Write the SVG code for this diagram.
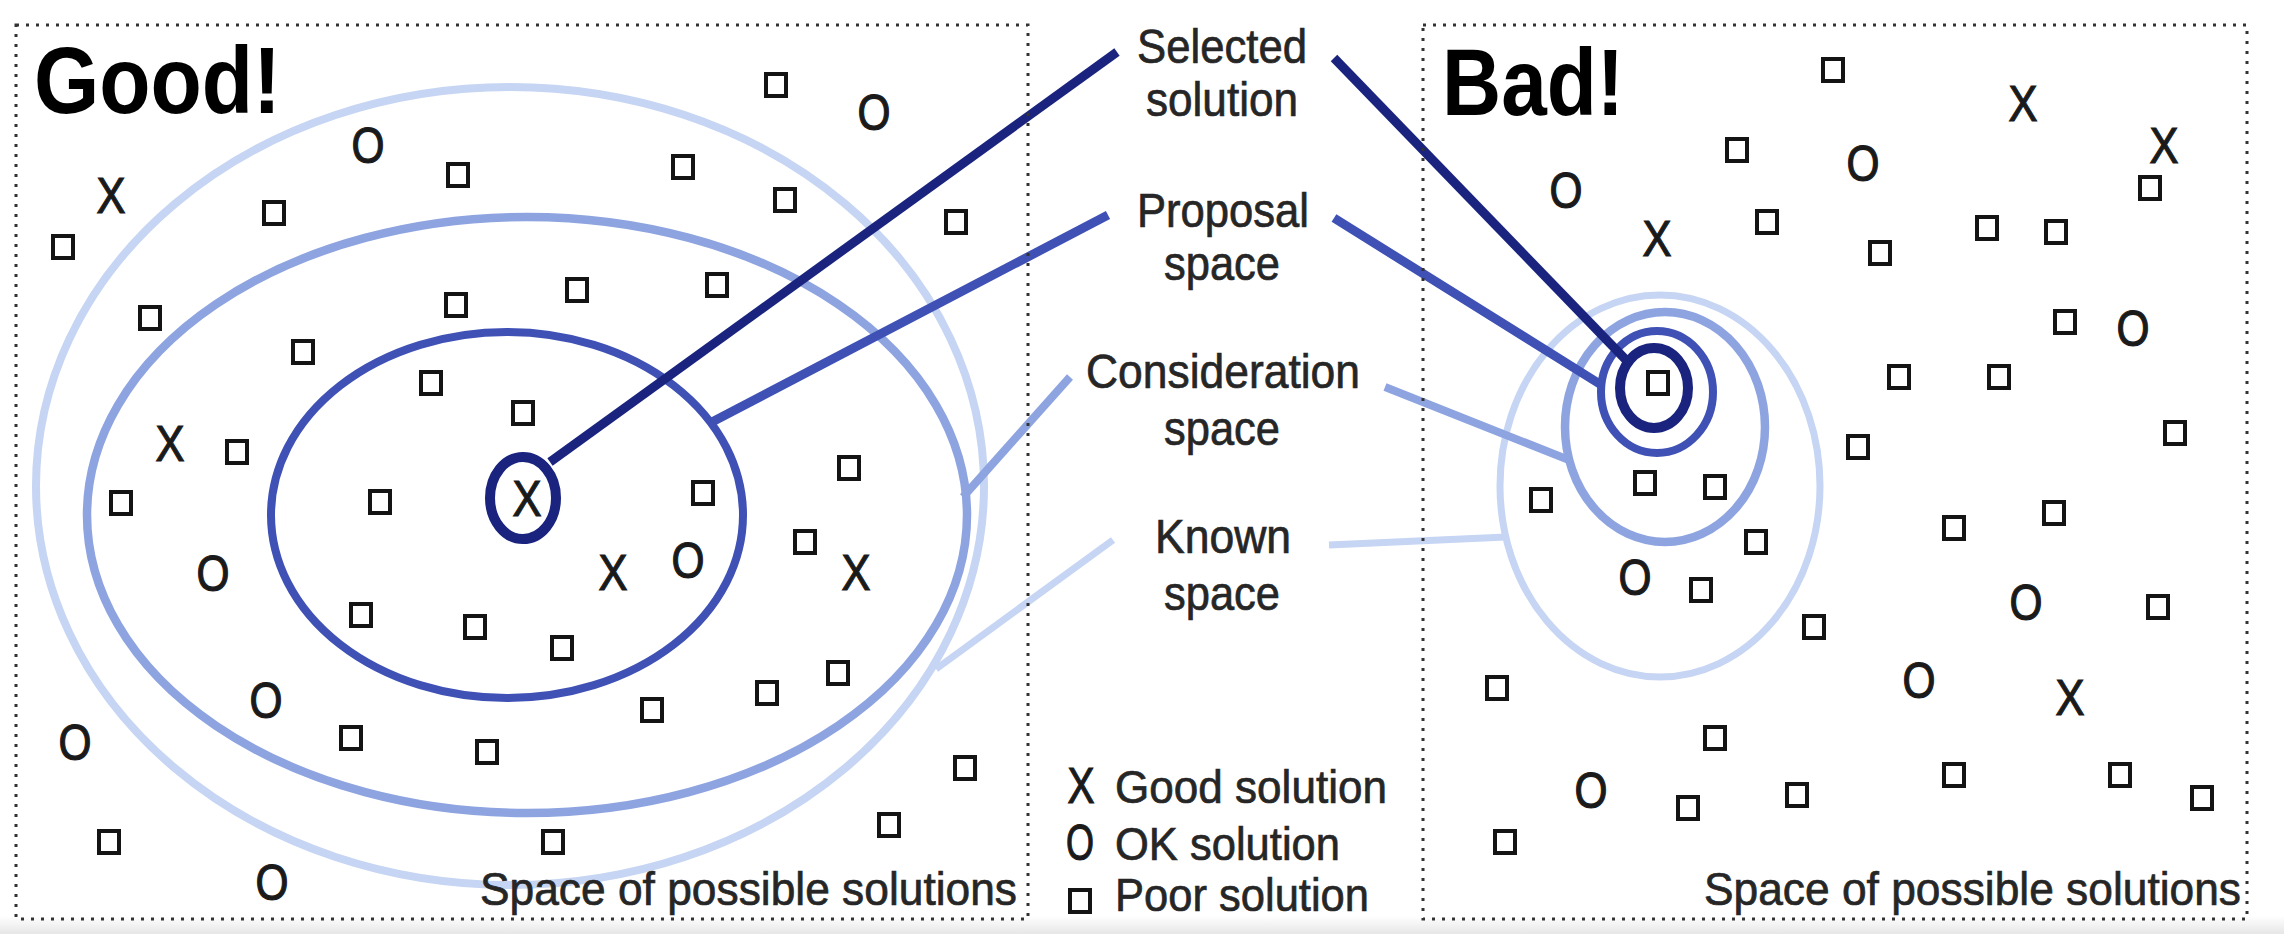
<svg xmlns="http://www.w3.org/2000/svg" width="2284" height="934" viewBox="0 0 2284 934">
<defs>
<style>
.bg{fill:#ffffff}
.frame{fill:none;stroke:#333333;stroke-width:3;stroke-dasharray:3 7}
.sq{fill:none;stroke:#141414;stroke-width:4}
.mk{font-family:"Liberation Sans",Arial,sans-serif;font-size:50px;fill:#1a1a1a;stroke:#1a1a1a;stroke-width:1.2;text-anchor:middle}
.lbl{font-family:"Liberation Sans",Arial,sans-serif;font-size:48px;fill:#262626;stroke:#262626;stroke-width:0.7;text-anchor:middle}
.leg{font-family:"Liberation Sans",Arial,sans-serif;font-size:47px;fill:#262626;stroke:#262626;stroke-width:0.7}
.title{font-family:"Liberation Sans",Arial,sans-serif;font-size:95px;font-weight:bold;fill:#000}
.ring{fill:none}
.known{stroke:#c6d5f3;stroke-width:8}
.consid{stroke:#8ea4e0;stroke-width:8.5}
.prop{stroke:#3f51b5;stroke-width:8}
.sel{stroke:#1a237e;stroke-width:10}
.ln{fill:none;stroke-linecap:butt}
</style>
<linearGradient id="shade" x1="0" y1="0" x2="0" y2="1">
<stop offset="0" stop-color="#ffffff"/>
<stop offset="1" stop-color="#e6e6e6"/>
</linearGradient>
</defs>
<rect class="bg" x="0" y="0" width="2284" height="934"/>
<rect x="0" y="916" width="2284" height="18" fill="url(#shade)"/>

<g id="panel-good">
<g id="good-spaces">
<ellipse id="good-known" class="ring known" cx="510" cy="486" rx="474" ry="399"/>
<ellipse id="good-consideration" class="ring consid" cx="527" cy="515" rx="440" ry="298"/>
<ellipse id="good-proposal" class="ring prop" cx="507" cy="515" rx="236" ry="183"/>
<ellipse id="good-selected" class="ring sel" cx="523" cy="498" rx="33" ry="41"/>
</g>
<g id="good-poor">
<rect class="sq" x="766" y="74" width="20" height="22"/>
<rect class="sq" x="448" y="164" width="20" height="22"/>
<rect class="sq" x="673" y="156" width="20" height="22"/>
<rect class="sq" x="775" y="189" width="20" height="22"/>
<rect class="sq" x="264" y="202" width="20" height="22"/>
<rect class="sq" x="53" y="236" width="20" height="22"/>
<rect class="sq" x="946" y="211" width="20" height="22"/>
<rect class="sq" x="140" y="307" width="20" height="22"/>
<rect class="sq" x="446" y="294" width="20" height="22"/>
<rect class="sq" x="567" y="279" width="20" height="22"/>
<rect class="sq" x="707" y="274" width="20" height="22"/>
<rect class="sq" x="293" y="341" width="20" height="22"/>
<rect class="sq" x="421" y="372" width="20" height="22"/>
<rect class="sq" x="513" y="402" width="20" height="22"/>
<rect class="sq" x="227" y="441" width="20" height="22"/>
<rect class="sq" x="111" y="492" width="20" height="22"/>
<rect class="sq" x="370" y="491" width="20" height="22"/>
<rect class="sq" x="693" y="482" width="20" height="22"/>
<rect class="sq" x="839" y="457" width="20" height="22"/>
<rect class="sq" x="795" y="531" width="20" height="22"/>
<rect class="sq" x="351" y="604" width="20" height="22"/>
<rect class="sq" x="465" y="616" width="20" height="22"/>
<rect class="sq" x="552" y="637" width="20" height="22"/>
<rect class="sq" x="642" y="699" width="20" height="22"/>
<rect class="sq" x="757" y="682" width="20" height="22"/>
<rect class="sq" x="828" y="662" width="20" height="22"/>
<rect class="sq" x="341" y="727" width="20" height="22"/>
<rect class="sq" x="477" y="741" width="20" height="22"/>
<rect class="sq" x="955" y="757" width="20" height="22"/>
<rect class="sq" x="879" y="814" width="20" height="22"/>
<rect class="sq" x="99" y="831" width="20" height="22"/>
<rect class="sq" x="543" y="831" width="20" height="22"/>
</g>
<g id="good-marks">
<text class="mk" x="111" y="213" textLength="29" lengthAdjust="spacingAndGlyphs">X</text>
<text class="mk" x="170" y="461" textLength="29" lengthAdjust="spacingAndGlyphs">X</text>
<text class="mk" x="613" y="590" textLength="29" lengthAdjust="spacingAndGlyphs">X</text>
<text class="mk" x="856" y="590" textLength="29" lengthAdjust="spacingAndGlyphs">X</text>
<text class="mk" x="527" y="516" textLength="29" lengthAdjust="spacingAndGlyphs">X</text>
<text class="mk" x="368" y="163" textLength="33" lengthAdjust="spacingAndGlyphs">O</text>
<text class="mk" x="874" y="130" textLength="33" lengthAdjust="spacingAndGlyphs">O</text>
<text class="mk" x="213" y="591" textLength="33" lengthAdjust="spacingAndGlyphs">O</text>
<text class="mk" x="688" y="578" textLength="33" lengthAdjust="spacingAndGlyphs">O</text>
<text class="mk" x="266" y="718" textLength="33" lengthAdjust="spacingAndGlyphs">O</text>
<text class="mk" x="75" y="760" textLength="33" lengthAdjust="spacingAndGlyphs">O</text>
<text class="mk" x="272" y="900" textLength="33" lengthAdjust="spacingAndGlyphs">O</text>
</g>
<text class="title" x="34" y="113" textLength="247" lengthAdjust="spacingAndGlyphs">Good!</text>
<text class="lbl" x="480" y="905" style="text-anchor:start;font-size:46px" textLength="537" lengthAdjust="spacingAndGlyphs">Space of possible solutions</text>
</g>

<g id="panel-bad">
<g id="bad-spaces">
<ellipse id="bad-known" class="ring known" cx="1660" cy="486" rx="160" ry="191" style="stroke-width:7"/>
<ellipse id="bad-consideration" class="ring consid" cx="1665" cy="427" rx="100" ry="115"/>
<ellipse id="bad-proposal" class="ring prop" cx="1657" cy="392" rx="56" ry="61"/>
<ellipse id="bad-selected" class="ring sel" cx="1654" cy="388" rx="34" ry="40"/>
</g>
<g id="bad-poor">
<rect class="sq" x="1823" y="59" width="20" height="22"/>
<rect class="sq" x="1727" y="139" width="20" height="22"/>
<rect class="sq" x="2140" y="177" width="20" height="22"/>
<rect class="sq" x="1757" y="211" width="20" height="22"/>
<rect class="sq" x="1977" y="217" width="20" height="22"/>
<rect class="sq" x="2046" y="221" width="20" height="22"/>
<rect class="sq" x="1870" y="242" width="20" height="22"/>
<rect class="sq" x="2055" y="311" width="20" height="22"/>
<rect class="sq" x="1889" y="366" width="20" height="22"/>
<rect class="sq" x="1989" y="366" width="20" height="22"/>
<rect class="sq" x="1648" y="372" width="20" height="22"/>
<rect class="sq" x="2165" y="422" width="20" height="22"/>
<rect class="sq" x="1848" y="436" width="20" height="22"/>
<rect class="sq" x="1635" y="472" width="20" height="22"/>
<rect class="sq" x="1705" y="476" width="20" height="22"/>
<rect class="sq" x="1531" y="489" width="20" height="22"/>
<rect class="sq" x="2044" y="502" width="20" height="22"/>
<rect class="sq" x="1944" y="517" width="20" height="22"/>
<rect class="sq" x="1746" y="531" width="20" height="22"/>
<rect class="sq" x="1691" y="579" width="20" height="22"/>
<rect class="sq" x="2148" y="596" width="20" height="22"/>
<rect class="sq" x="1804" y="616" width="20" height="22"/>
<rect class="sq" x="1487" y="677" width="20" height="22"/>
<rect class="sq" x="1705" y="727" width="20" height="22"/>
<rect class="sq" x="1944" y="764" width="20" height="22"/>
<rect class="sq" x="2110" y="764" width="20" height="22"/>
<rect class="sq" x="1787" y="784" width="20" height="22"/>
<rect class="sq" x="1678" y="797" width="20" height="22"/>
<rect class="sq" x="2192" y="787" width="20" height="22"/>
<rect class="sq" x="1495" y="831" width="20" height="22"/>
</g>
<g id="bad-marks">
<text class="mk" x="2023" y="121" textLength="29" lengthAdjust="spacingAndGlyphs">X</text>
<text class="mk" x="2164" y="163" textLength="29" lengthAdjust="spacingAndGlyphs">X</text>
<text class="mk" x="1657" y="256" textLength="29" lengthAdjust="spacingAndGlyphs">X</text>
<text class="mk" x="2070" y="715" textLength="29" lengthAdjust="spacingAndGlyphs">X</text>
<text class="mk" x="1566" y="208" textLength="33" lengthAdjust="spacingAndGlyphs">O</text>
<text class="mk" x="1863" y="181" textLength="33" lengthAdjust="spacingAndGlyphs">O</text>
<text class="mk" x="2133" y="346" textLength="33" lengthAdjust="spacingAndGlyphs">O</text>
<text class="mk" x="1635" y="595" textLength="33" lengthAdjust="spacingAndGlyphs">O</text>
<text class="mk" x="2026" y="620" textLength="33" lengthAdjust="spacingAndGlyphs">O</text>
<text class="mk" x="1919" y="698" textLength="33" lengthAdjust="spacingAndGlyphs">O</text>
<text class="mk" x="1591" y="808" textLength="33" lengthAdjust="spacingAndGlyphs">O</text>
</g>
<text class="title" x="1442" y="115" textLength="182" lengthAdjust="spacingAndGlyphs">Bad!</text>
<text class="lbl" x="1704" y="905" style="text-anchor:start;font-size:46px" textLength="537" lengthAdjust="spacingAndGlyphs">Space of possible solutions</text>
</g>

<g id="connectors">
<line class="ln" x1="550" y1="462" x2="1117" y2="52" stroke="#1a237e" stroke-width="9"/>
<line class="ln" x1="712" y1="422" x2="1108" y2="215" stroke="#3f51b5" stroke-width="9"/>
<line class="ln" x1="963" y1="497" x2="1070" y2="377" stroke="#8ea4e0" stroke-width="8"/>
<line class="ln" x1="936" y1="669" x2="1113" y2="540" stroke="#c6d5f3" stroke-width="7"/>
<line class="ln" x1="1334" y1="58" x2="1628" y2="362" stroke="#1a237e" stroke-width="9"/>
<line class="ln" x1="1334" y1="218" x2="1603" y2="386" stroke="#3f51b5" stroke-width="9"/>
<line class="ln" x1="1385" y1="387" x2="1569" y2="460" stroke="#8ea4e0" stroke-width="8"/>
<line class="ln" x1="1329" y1="545" x2="1506" y2="537" stroke="#c6d5f3" stroke-width="7"/>
</g>

<g id="label-selected">
<text class="lbl" x="1222" y="63" textLength="170" lengthAdjust="spacingAndGlyphs">Selected</text>
<text class="lbl" x="1222" y="116" textLength="152" lengthAdjust="spacingAndGlyphs">solution</text>
</g>
<g id="label-proposal">
<text class="lbl" x="1223" y="227" textLength="172" lengthAdjust="spacingAndGlyphs">Proposal</text>
<text class="lbl" x="1222" y="280" textLength="116" lengthAdjust="spacingAndGlyphs">space</text>
</g>
<g id="label-consideration">
<text class="lbl" x="1223" y="388" textLength="274" lengthAdjust="spacingAndGlyphs">Consideration</text>
<text class="lbl" x="1222" y="445" textLength="116" lengthAdjust="spacingAndGlyphs">space</text>
</g>
<g id="label-known">
<text class="lbl" x="1223" y="553" textLength="136" lengthAdjust="spacingAndGlyphs">Known</text>
<text class="lbl" x="1222" y="610" textLength="116" lengthAdjust="spacingAndGlyphs">space</text>
</g>

<g id="legend">
<text class="mk" x="1081" y="803" textLength="27" lengthAdjust="spacingAndGlyphs">X</text>
<text class="leg" x="1115" y="803" textLength="272" lengthAdjust="spacingAndGlyphs">Good solution</text>
<text class="mk" x="1080" y="860" textLength="28" lengthAdjust="spacingAndGlyphs">O</text>
<text class="leg" x="1115" y="860" textLength="225" lengthAdjust="spacingAndGlyphs">OK solution</text>
<rect class="sq" x="1070" y="890" width="20" height="22"/>
<text class="leg" x="1115" y="911" textLength="254" lengthAdjust="spacingAndGlyphs">Poor solution</text>
</g>

<g id="frames">
<rect class="frame" x="16" y="25" width="1012" height="894"/>
<rect class="frame" x="1423" y="25" width="824" height="894"/>
</g>
</svg>
